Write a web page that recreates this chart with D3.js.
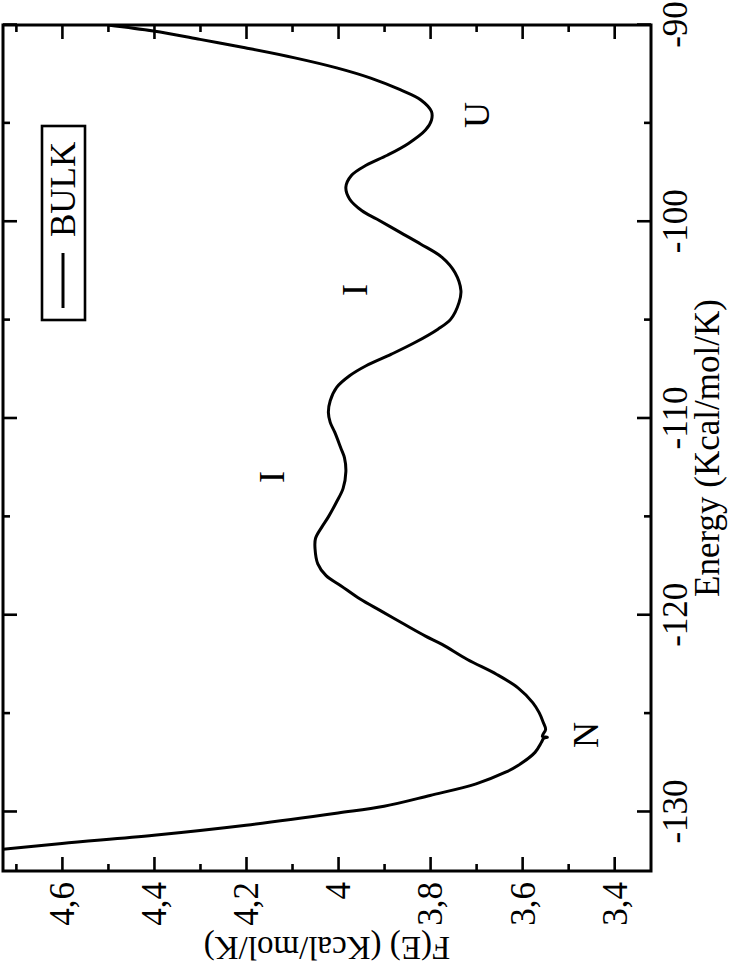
<!DOCTYPE html>
<html>
<head>
<meta charset="utf-8">
<script src="https://cdn.jsdelivr.net/npm/d3@7"></script>
<style>
  body { margin: 0; background: #fff; }
  svg text { font-family: "Liberation Serif", "Times New Roman", serif; fill: #000; }
</style>
</head>
<body>
<svg id="chart" width="730" height="969" font-family="Liberation Serif"></svg>
<script>
// energy (Kcal/mol/K) and F(E)
var energy = [-132.2, -131.9, -131.6, -131.18, -130.67, -130.05, -129.71, -129.16, -128.57,
  -127.98, -127.64, -126.97, -126.46, -126.25, -126.2, -126.15, -125.8, -125.45, -124.95,
  -124.44, -123.69, -123.01, -122.25, -121.48, -121.06, -120.46, -119.78, -119.18, -118.5,
  -117.99, -117.39, -116.62, -116.1, -115.51, -115.0, -114.23, -113.55, -112.7, -112.0,
  -111.5, -110.71, -110.2, -109.69, -109.1, -108.42, -107.83, -107.32, -106.73, -106.14,
  -105.46, -104.95, -104.1, -103.5, -102.58, -101.81, -101.14, -100.54, -99.86, -99.44,
  -98.84, -98.24, -97.65, -97.13, -96.62, -96.02, -95.34, -94.83, -94.4, -93.81, -93.29,
  -92.7, -92.18, -91.67, -91.16, -90.73, -90.31, -90.0];
var freeEnergy = [4.86, 4.728, 4.60, 4.40, 4.20, 4.00, 3.90, 3.80, 3.70,
  3.636, 3.609, 3.572, 3.558, 3.553, 3.545, 3.556, 3.549, 3.554, 3.563,
  3.577, 3.609, 3.655, 3.719, 3.774, 3.810, 3.856, 3.907, 3.952, 3.994,
  4.026, 4.044, 4.050, 4.049, 4.035, 4.021, 4.003, 3.989, 3.983, 3.986,
  3.994, 4.007, 4.017, 4.021, 4.017, 4.003, 3.975, 3.939, 3.884, 3.833,
  3.783, 3.755, 3.737, 3.733, 3.746, 3.774, 3.820, 3.865, 3.916, 3.948,
  3.975, 3.983, 3.971, 3.939, 3.893, 3.847, 3.810, 3.797, 3.797, 3.820, 3.865,
  3.929, 4.003, 4.094, 4.202, 4.30, 4.401, 4.50];

var energyMajor = [-130, -120, -110, -100, -90];
var energyMinor = [-125, -115, -105, -95];
var fMajor = [3.4, 3.6, 3.8, 4.0, 4.2, 4.4, 4.6];
var fMinor = [3.5, 3.7, 3.9, 4.1, 4.3, 4.5, 4.7];

var stateLabels = ["U", "I", "I", "N"];
var stateE = [-94.57, -103.47, -112.97, -126.09];
var stateF = [3.672, 3.937, 4.117, 3.4355];

var seriesName = "BULK";

var SERIF = "'Liberation Serif', 'Times New Roman', serif";

// the plot is drawn landscape then turned a quarter turn counter clockwise
var W = 846, H = 648;
var svg = d3.select("#chart");
var g = svg.append("g").attr("transform", "translate(3,871) rotate(-90)");

var x = d3.scaleLinear().domain([-133, -90]).range([0, W]);
var y = d3.scaleLinear().domain([3.32, 4.728]).range([H, 0]);

function styleAxis(sel) {
  sel.attr("font-family", null).attr("font-size", null);
  sel.select(".domain").remove();
  sel.selectAll("line").attr("stroke", "#000").attr("stroke-width", 2.6);
}

// energy axis, bottom (labels) and top
g.append("g").attr("transform", "translate(0," + H + ")")
  .call(d3.axisBottom(x).tickValues(energyMajor).tickSize(-14).tickFormat(function (d) { return String(d); }))
  .call(styleAxis)
  .call(function (s) {
    s.selectAll("text").attr("y", 36).attr("dy", 0);
  });
g.append("g").attr("transform", "translate(0," + H + ")")
  .call(d3.axisBottom(x).tickValues(energyMinor).tickSize(-7).tickFormat(""))
  .call(styleAxis);
g.append("g")
  .call(d3.axisTop(x).tickValues(energyMajor).tickSize(-14).tickFormat(""))
  .call(styleAxis);
g.append("g")
  .call(d3.axisTop(x).tickValues(energyMinor).tickSize(-7).tickFormat(""))
  .call(styleAxis);

// F(E) axis, left (labels) and right
g.append("g")
  .call(d3.axisLeft(y).tickValues(fMajor).tickSize(-14).tickFormat(function (d) { return String(d).replace(".", ","); }))
  .call(styleAxis)
  .call(function (s) {
    s.selectAll("text").attr("x", -11).attr("dy", "0.34em");
  });
g.append("g")
  .call(d3.axisLeft(y).tickValues(fMinor).tickSize(-7).tickFormat(""))
  .call(styleAxis);
g.append("g").attr("transform", "translate(" + W + ",0)")
  .call(d3.axisRight(y).tickValues(fMajor).tickSize(-14).tickFormat(""))
  .call(styleAxis);
g.append("g").attr("transform", "translate(" + W + ",0)")
  .call(d3.axisRight(y).tickValues(fMinor).tickSize(-7).tickFormat(""))
  .call(styleAxis);

g.selectAll(".tick text")
  .style("font-family", SERIF)
  .style("font-size", "35px");

// curve
g.append("clipPath").attr("id", "plotclip")
  .append("rect").attr("width", W).attr("height", H);

var line = d3.line()
  .x(function (d, i) { return x(energy[i]); })
  .y(function (d, i) { return y(freeEnergy[i]); })
  .curve(d3.curveCatmullRom.alpha(0.5));

g.append("path")
  .attr("d", line(energy))
  .attr("clip-path", "url(#plotclip)")
  .attr("fill", "none")
  .attr("stroke", "#000")
  .attr("stroke-width", 3)
  .attr("stroke-linejoin", "round");

// frame
g.append("rect")
  .attr("width", W).attr("height", H)
  .attr("fill", "none").attr("stroke", "#000").attr("stroke-width", 3);

// state labels
g.selectAll(".state")
  .data(stateLabels)
  .enter().append("text")
  .attr("class", "state")
  .attr("x", function (d, i) { return x(stateE[i]); })
  .attr("y", function (d, i) { return y(stateF[i]); })
  .attr("text-anchor", "middle")
  .style("font-family", SERIF)
  .style("font-size", "36px")
  .text(function (d) { return d; });

// legend
var leg = g.append("g").attr("transform", "translate(551,39)");
leg.append("rect")
  .attr("width", 194).attr("height", 43)
  .attr("fill", "#fff").attr("stroke", "#000").attr("stroke-width", 2.6);
leg.append("line")
  .attr("x1", 12).attr("x2", 67).attr("y1", 21).attr("y2", 21)
  .attr("stroke", "#000").attr("stroke-width", 3);
leg.append("text")
  .attr("x", 83).attr("y", 33)
  .style("font-family", SERIF)
  .style("font-size", "35px")
  .text(seriesName);

// axis titles
g.append("text")
  .attr("x", W / 2).attr("y", H + 68)
  .attr("text-anchor", "middle")
  .style("font-family", SERIF)
  .style("font-size", "35px")
  .text("Energy (Kcal/mol/K)");
g.append("text")
  .attr("transform", "translate(-66," + (H / 2) + ") rotate(-90)")
  .attr("text-anchor", "middle")
  .style("font-family", SERIF)
  .style("font-size", "33px")
  .text("F(E) (Kcal/mol/K)");
</script>
</body>
</html>
